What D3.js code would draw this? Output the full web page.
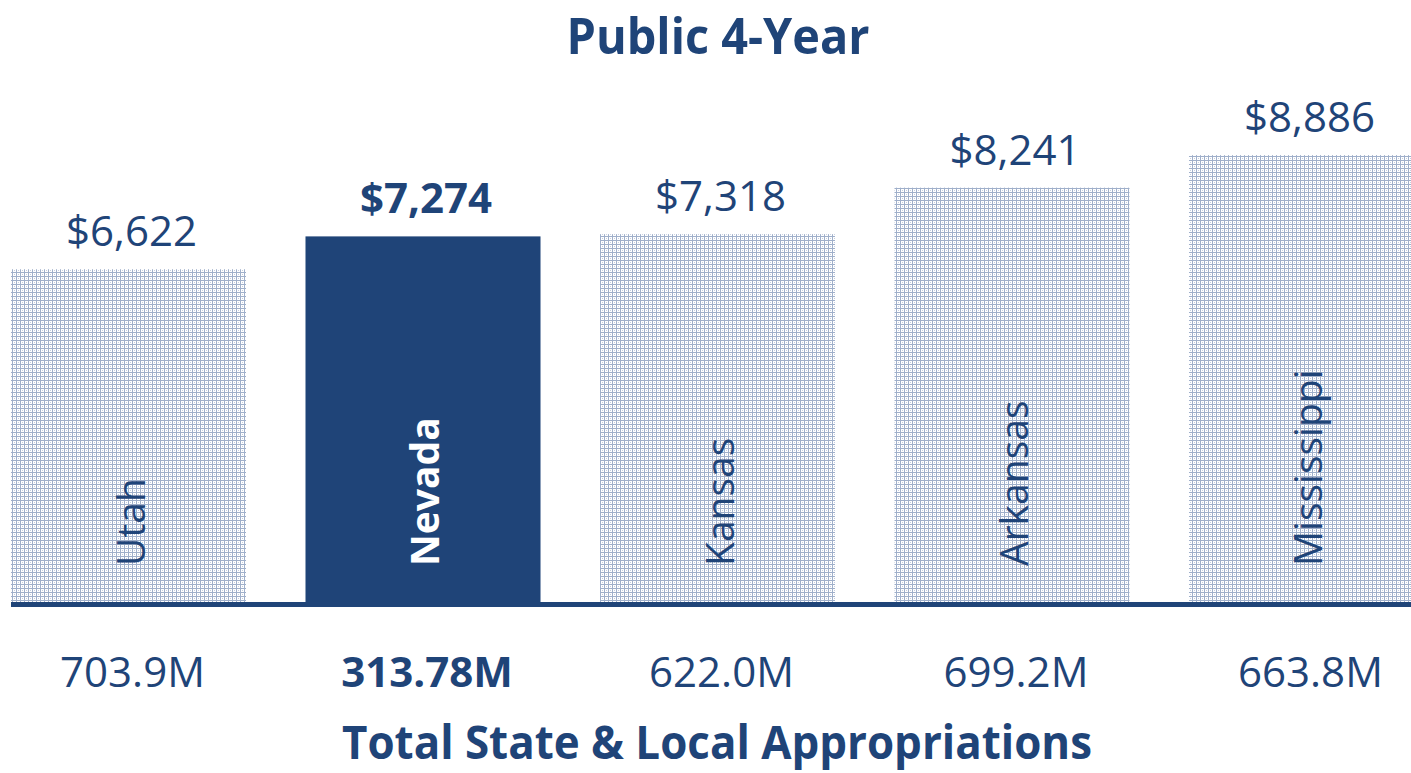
<!DOCTYPE html>
<html>
<head>
<meta charset="utf-8">
<script src="https://cdn.jsdelivr.net/npm/d3@7"></script>
<style>
  html, body { margin: 0; padding: 0; background: white; }
  text { font-family: "Open Sans", sans-serif; }
</style>
</head>
<body>
<script>
// data
const states = ["Utah", "Nevada", "Kansas", "Arkansas", "Mississippi"];
const perStudent = [6622, 7274, 7318, 8241, 8886];
const appropriations = ["703.9M", "313.78M", "622.0M", "699.2M", "663.8M"];
const highlight = "Nevada";

const chartTitle = "Public 4-Year";
const axisTitle = "Total State & Local Appropriations";

const blue = "#1f4478";

function drawChart() {
    let svg = d3.select("body").append("svg") // main drawing area
        .attr("width", 1411)
        .attr("height", 773)
        .style("display", "block");

    // grid-like pattern fill for the other states
    let pat = svg.append("defs").append("pattern")
        .attr("id", "grid")
        .attr("patternUnits", "userSpaceOnUse")
        .attr("width", 4).attr("height", 4);
    pat.append("rect").attr("width", 4).attr("height", 4).attr("fill", "#ffffff");
    pat.append("rect").attr("width", 4).attr("height", 1).attr("fill", "#9fafca");
    pat.append("rect").attr("y", 1).attr("width", 1).attr("height", 3).attr("fill", "#9fafca");
    pat.append("rect").attr("x", 2).attr("y", 2).attr("width", 1).attr("height", 1).attr("fill", "#c3cde0");

    let x = d3.scaleBand().domain(states).range([11, 1424]).paddingInner(0.202).paddingOuter(0);
    let y = d3.scaleLinear().domain([0, 9000]).range([603, 149.4]);

    let rows = states.map((s, i) => ({ state: s, value: perStudent[i], approp: appropriations[i] }));
    let isHi = d => d.state === highlight;

    svg.selectAll(".bar")
        .data(rows)
        .enter()
        .append("rect")
        .attr("class", "bar")
        .attr("x", d => x(d.state))
        .attr("y", d => y(d.value))
        .attr("width", x.bandwidth())
        .attr("height", d => y(0) - y(d.value))
        .attr("fill", d => isHi(d) ? blue : "url(#grid)");

    // baseline
    svg.append("rect")
        .attr("x", 11).attr("y", y(0) - 1)
        .attr("width", 1411).attr("height", 5)
        .attr("fill", blue);

    let cx = d => x(d.state) + x.bandwidth() / 2;

    // values above the bars
    svg.selectAll(".val")
        .data(rows)
        .enter()
        .append("text")
        .attr("class", "val")
        .attr("x", d => cx(d) + 3)
        .attr("y", d => y(d.value) - 23)
        .attr("text-anchor", "middle")
        .attr("fill", blue)
        .style("font-size", "42px")
        .style("font-weight", d => isHi(d) ? 700 : 400)
        .attr("textLength", d => isHi(d) ? 132 : null)
        .attr("lengthAdjust", "spacingAndGlyphs")
        .text(d => "$" + d3.format(",")(d.value));

    // state names inside the bars
    svg.selectAll(".name")
        .data(rows)
        .enter()
        .append("text")
        .attr("class", "name")
        .attr("transform", d => `translate(${cx(d) + 16},566) rotate(-90)`)
        .attr("fill", d => isHi(d) ? "white" : blue)
        .style("font-size", "39px")
        .style("font-weight", d => isHi(d) ? 700 : 400)
        .text(d => d.state);

    // appropriations under the axis
    svg.selectAll(".approp")
        .data(rows)
        .enter()
        .append("text")
        .attr("class", "approp")
        .attr("x", d => cx(d) + 4)
        .attr("y", 687)
        .attr("text-anchor", "middle")
        .attr("fill", blue)
        .style("font-size", "42px")
        .style("font-weight", d => isHi(d) ? 700 : 400)
        .text(d => d.approp);

    svg.append("text")
        .attr("x", 718).attr("y", 54)
        .attr("text-anchor", "middle")
        .attr("fill", blue)
        .style("font-size", "50px").style("font-weight", 700)
        .attr("textLength", 303).attr("lengthAdjust", "spacingAndGlyphs")
        .text(chartTitle);

    svg.append("text")
        .attr("x", 717).attr("y", 759)
        .attr("text-anchor", "middle")
        .attr("fill", blue)
        .style("font-size", "46px").style("font-weight", 700)
        .attr("textLength", 750).attr("lengthAdjust", "spacingAndGlyphs")
        .text(axisTitle);
}

document.addEventListener("DOMContentLoaded", drawChart);
</script>
</body>
</html>
